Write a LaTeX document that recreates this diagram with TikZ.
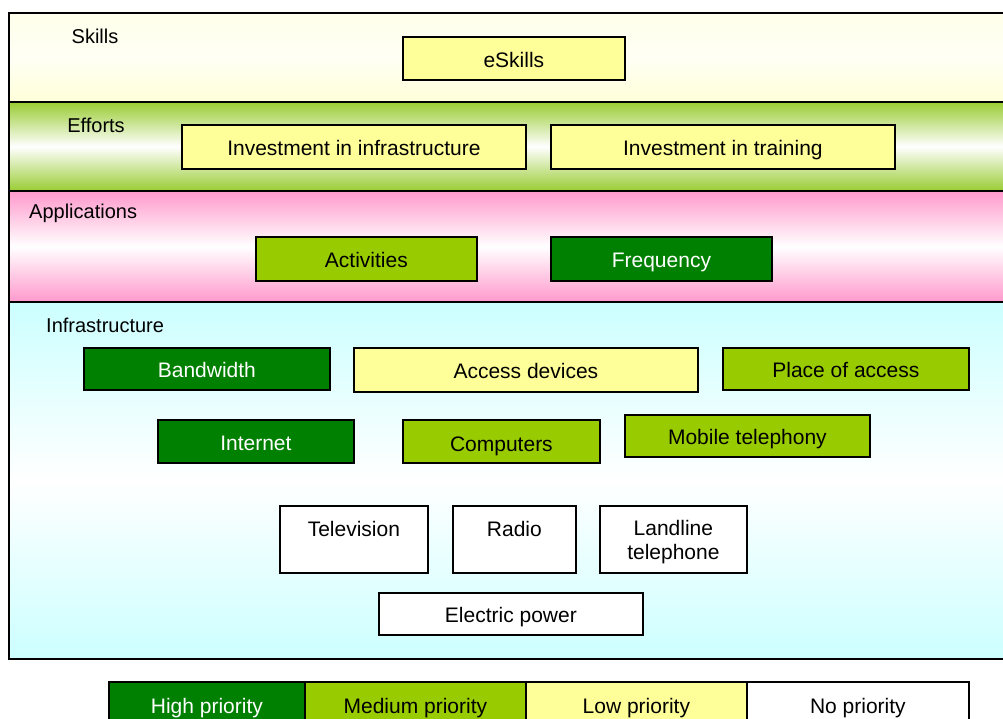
\documentclass[tikz,border=0pt]{standalone}
\usepackage{fontspec}
\setmainfont{Liberation Sans}
\definecolor{hiG}{HTML}{008000}
\definecolor{midG}{HTML}{99CC00}
\definecolor{lowY}{HTML}{FFFF99}
\definecolor{effG}{HTML}{99CC33}
\definecolor{appP}{HTML}{FF99CC}
\definecolor{infC}{HTML}{CCFFFF}
\tikzset{
  band/.style={draw=black, line width=2.4pt},
  bx/.style={draw=black, line width=1.8pt, minimum height=44pt, inner sep=0pt,
    text height=18pt, text depth=0pt, anchor=north west, font=\fontsize{21}{24}\selectfont},
  high/.style={bx, fill=hiG, text=white},
  med/.style={bx, fill=midG, text=black},
  low/.style={bx, fill=lowY, text=black},
  none/.style={bx, fill=white, text=black},
  lbl/.style={font=\fontsize{20}{24}\selectfont, inner sep=0pt},
  boxtext/.style={font=\fontsize{21}{24}\selectfont, inner sep=0pt},
  lgd/.style={bx, minimum height=50pt, text height=14pt}
}
\begin{document}
\begin{tikzpicture}[x=1pt,y=-1pt]
\useasboundingbox (0,0) rectangle (1003,719);
\clip (0,0) rectangle (1003,719);

% Layer bands
\shade[top color=yellow!8, bottom color=yellow!15, middle color=yellow!4] (9,13) rectangle (1015,102);
\shade[top color=effG, bottom color=effG, middle color=white] (9,102) rectangle (1015,191);
\shade[top color=appP, bottom color=appP, middle color=white] (9,191) rectangle (1015,302);
\shade[top color=infC, bottom color=infC, middle color=white] (9,302) rectangle (1015,659);
\draw[band] (1015,13) -- (9,13) -- (9,659) -- (1015,659);
\draw[band] (9,102) -- (1015,102);
\draw[band] (9,191) -- (1015,191);
\draw[band] (9,302) -- (1015,302);

% Layer titles
\node[lbl] (tSkills) at (95,36) {Skills};
\node[lbl] (tEfforts) at (96,125) {Efforts};
\node[lbl, anchor=west] (tApps) at (29,213) {Applications};
\node[lbl, anchor=west] (tInfra) at (46,325) {Infrastructure};

% Skills
\node[low, minimum width=222pt, minimum height=43pt] (eskills) at (402,36) {eSkills};

% Efforts
\node[low, minimum width=344pt] (invinf) at (181,124) {Investment in infrastructure};
\node[low, minimum width=344pt] (invtr) at (550,124) {Investment in training};

% Applications
\node[med, minimum width=221pt] (act) at (255,236) {Activities};
\node[high, minimum width=221pt] (freq) at (550,236) {Frequency};

% Infrastructure, first row
\node[high, minimum width=246pt, minimum height=42pt] (bw) at (83,347) {Bandwidth};
\node[low, minimum width=344pt] (acc) at (353,347) {Access devices};
\node[med, minimum width=246pt, minimum height=42pt] (place) at (722,347) {Place of access};

% Infrastructure, second row
\node[high, minimum width=196pt, minimum height=43pt] (inet) at (157,419) {Internet};
\node[med, minimum width=197pt, minimum height=43pt, text height=20pt] (comp) at (402,419) {Computers};
\node[med, minimum width=245pt, minimum height=42pt] (mob) at (624,414) {Mobile telephony};

% Infrastructure, basic services
\node[none, minimum width=148pt, minimum height=67pt] (tv) at (279,505) {};
\node[boxtext, anchor=base] (tvtxt) at ([yshift=-31pt]tv.north) {Television};
\node[none, minimum width=123pt, minimum height=67pt] (radio) at (452,505) {};
\node[boxtext, anchor=base] (radiotxt) at ([yshift=-31pt]radio.north) {Radio};
\node[none, minimum width=147pt, minimum height=67pt] (land) at (599,505) {};
\node[boxtext, align=center, anchor=north] (landtxt) at ([yshift=-15pt]land.north) {Landline\\telephone};
\node[none, minimum width=264pt, minimum height=42pt] (power) at (378,592) {};
\node[boxtext, anchor=base] (powertxt) at ([yshift=-30.5pt]power.north) {Electric power};

% Legend
\node[lgd, fill=hiG, text=white, minimum width=196pt] (lh) at (108,681) {High priority};
\node[lgd, fill=midG, minimum width=221pt] (lm) at (304,681) {Medium priority};
\node[lgd, fill=lowY, minimum width=221pt] (ll) at (525,681) {Low priority};
\node[lgd, fill=white, minimum width=222pt] (ln) at (746,681) {No priority};
\end{tikzpicture}
\end{document}
